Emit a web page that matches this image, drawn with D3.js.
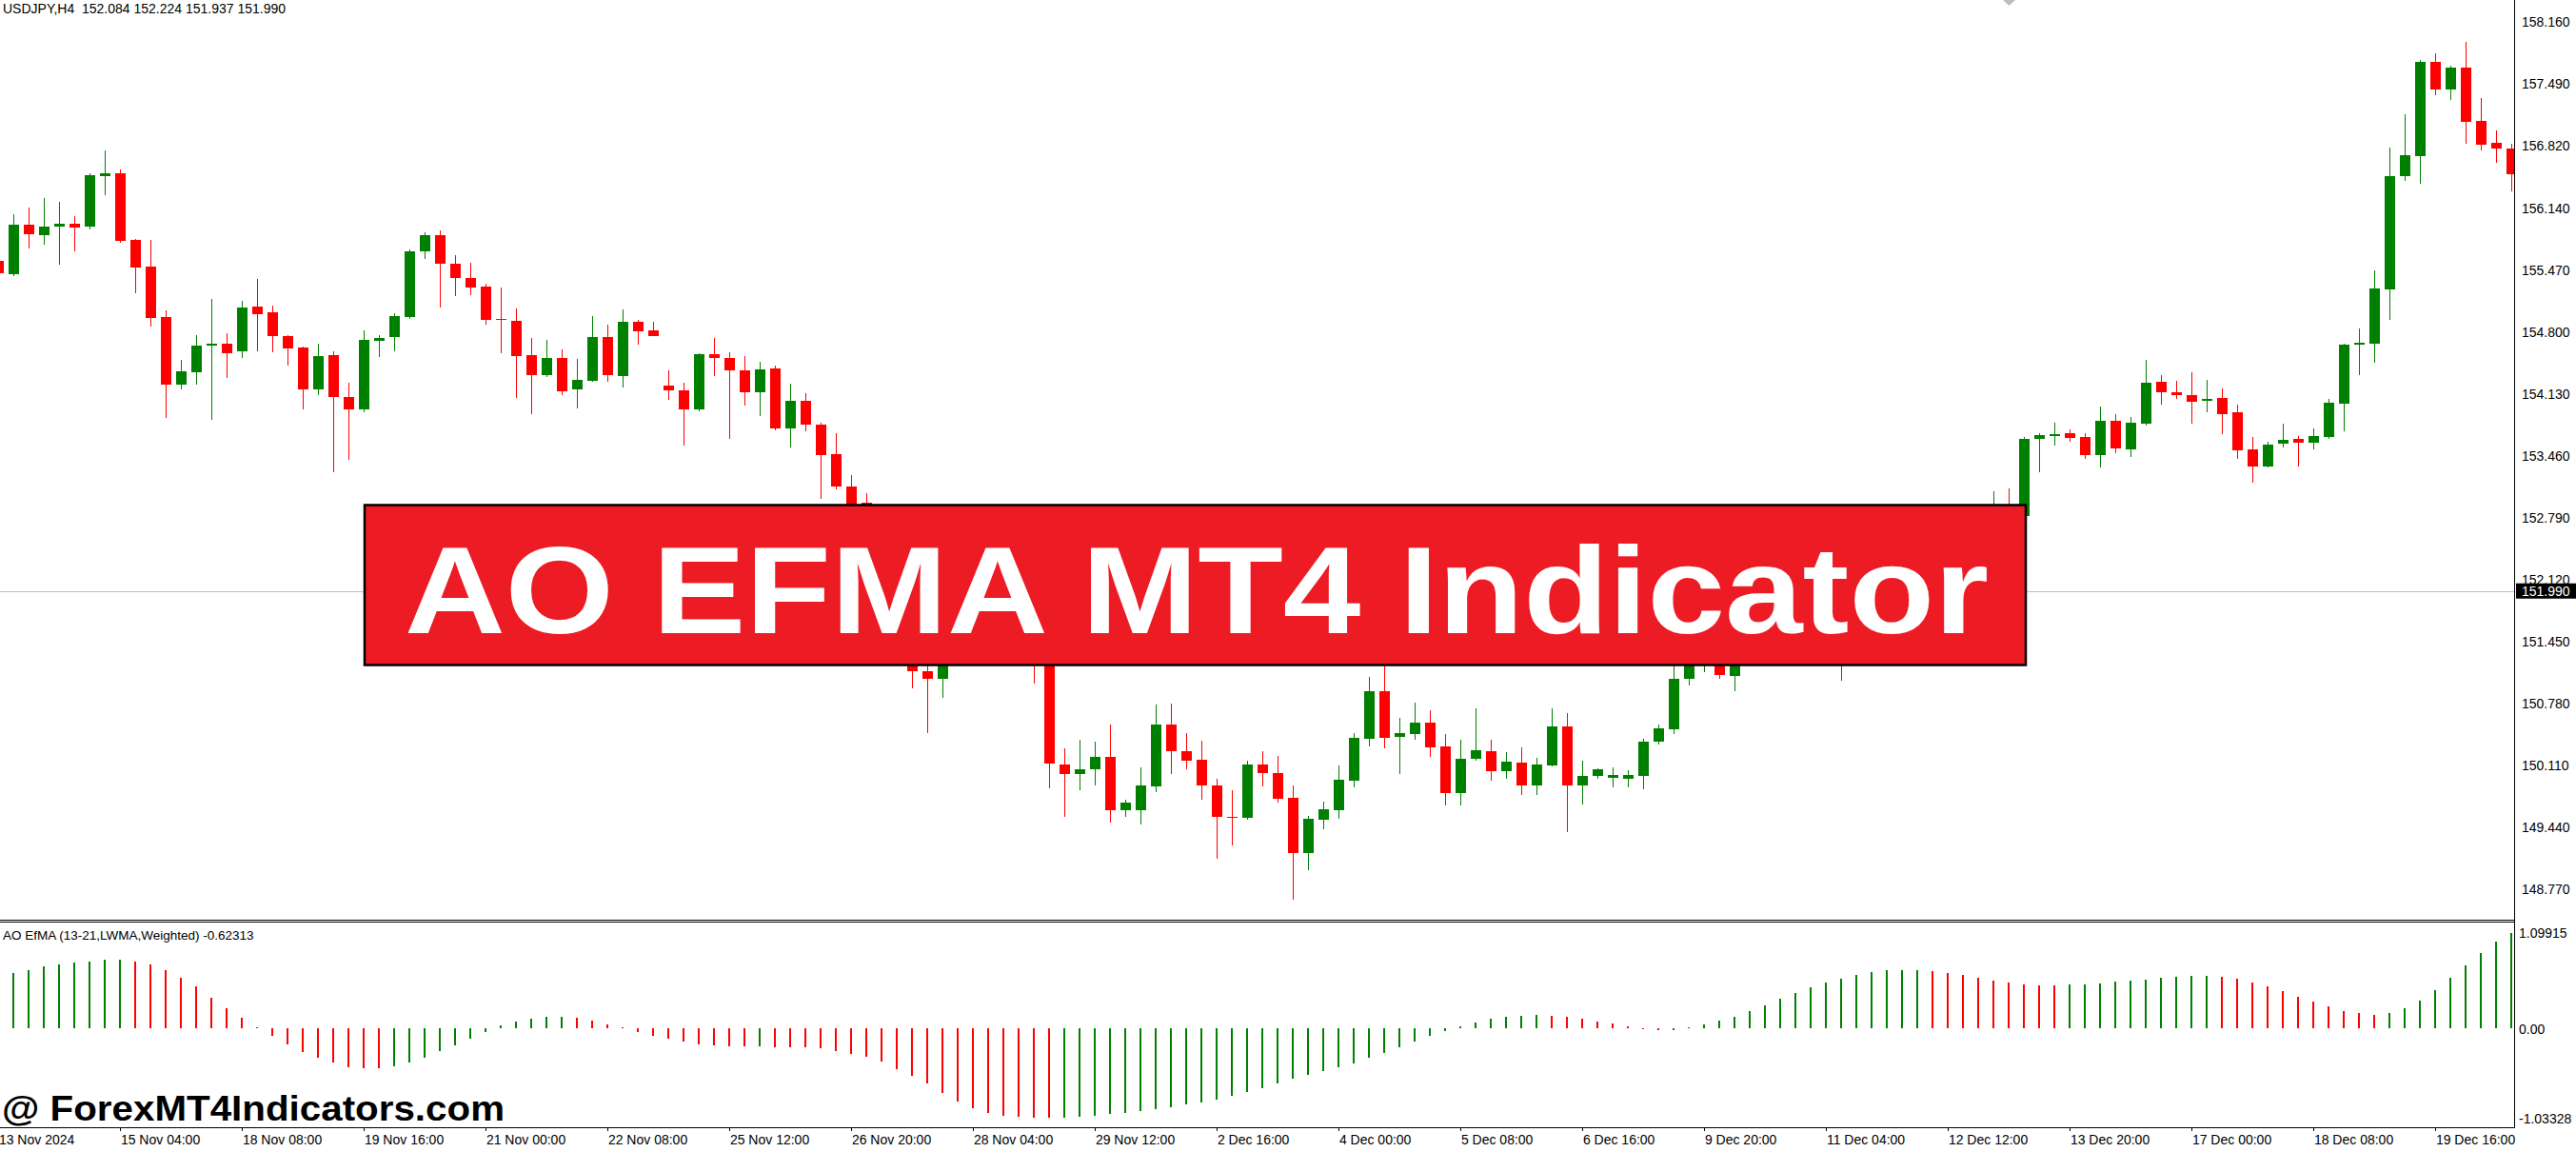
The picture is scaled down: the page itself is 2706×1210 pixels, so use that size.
<!DOCTYPE html>
<html><head><meta charset="utf-8">
<script src="https://cdn.jsdelivr.net/npm/d3@7"></script>
<style>
html,body{margin:0;padding:0;background:#fff;overflow:hidden}
svg{display:block}
text{font-family:"Liberation Sans",Arial,sans-serif}
</style></head><body>
<svg id="c" width="2706" height="1210"></svg>
<script>
// ---------- DATA ----------
const symbolTitle = "USDJPY,H4  152.084 152.224 151.937 151.990";
const indicatorTitle = "AO EfMA (13-21,LWMA,Weighted) -0.62313";
const bannerText = "AO EFMA MT4 Indicator";
const watermarkText = "@ ForexMT4Indicators.com";
const currentPrice = 151.990;

const open = [155.570,155.422,155.955,155.839,155.935,155.968,155.935,156.487,156.513,155.794,
155.506,154.954,154.223,154.364,154.646,154.665,154.582,155.070,155.012,154.749,
154.627,154.178,154.544,154.088,153.960,154.704,154.736,154.954,155.666,155.846,
155.538,155.377,155.288,154.941,154.916,154.544,154.326,154.512,154.172,154.268,
154.742,154.313,154.903,154.813,154.216,154.165,153.953,154.556,154.512,154.377,
154.140,154.403,153.748,154.050,153.793,153.473,153.120,152.947,152.363,151.914,
151.465,151.119,151.035,151.337,151.593,151.786,151.657,151.721,151.529,151.337,
150.112,150.003,150.054,150.189,149.611,149.611,149.874,150.541,150.259,150.163,
149.881,149.547,149.528,150.112,150.015,149.746,149.149,149.509,149.611,149.932,
150.387,150.900,150.413,150.439,150.561,150.304,149.797,150.169,150.253,150.035,
150.131,149.887,150.105,150.522,149.881,149.983,149.964,149.958,149.990,150.355,
150.490,151.035,151.337,151.433,151.074,151.337,151.593,151.914,151.850,152.042,
151.978,151.401,151.721,151.978,152.170,152.106,152.299,152.235,152.427,152.555,
152.684,152.748,152.812,152.805,153.633,153.665,153.697,153.659,153.460,153.832,
153.524,153.800,154.255,154.146,154.114,154.050,154.082,153.928,153.524,153.338,
153.581,153.633,153.594,153.659,154.018,154.653,154.672,155.256,156.481,156.699,
157.719,157.423,157.661,157.084,156.840,156.782];

const high = [155.621,156.070,156.141,156.243,156.205,156.051,156.519,156.763,156.558,155.807,
155.794,155.031,154.492,154.762,155.153,154.781,155.134,155.371,155.076,154.762,
154.640,154.665,154.588,154.249,154.813,154.762,154.999,155.692,155.878,155.897,
155.628,155.544,155.320,155.275,155.050,154.730,154.710,154.608,154.505,154.967,
154.877,155.038,154.928,154.903,154.377,154.249,154.563,154.730,154.576,154.537,
154.473,154.435,154.236,154.133,153.812,153.697,153.248,153.049,152.459,152.010,
151.561,151.272,151.401,151.689,151.882,151.882,151.818,151.786,151.593,151.401,
150.285,150.374,150.355,150.541,149.727,150.079,150.759,150.772,150.451,150.368,
149.958,149.829,150.150,150.253,150.201,149.881,149.554,149.708,150.099,150.451,
151.061,151.305,150.612,150.779,150.695,150.439,150.374,150.714,150.374,150.240,
150.298,150.182,150.721,150.663,150.150,150.073,150.079,150.047,150.387,150.541,
151.208,151.401,151.529,151.497,151.465,151.657,151.978,152.042,152.138,152.170,
152.042,151.786,152.074,152.267,152.299,152.395,152.427,152.523,152.652,152.812,
152.876,153.068,153.100,153.659,153.703,153.812,153.742,153.697,153.986,153.902,
153.877,154.492,154.326,154.268,154.358,154.274,154.184,154.011,153.659,153.607,
153.800,153.665,153.748,154.069,154.672,154.832,155.461,156.795,157.154,157.744,
157.815,157.680,157.937,157.327,156.981,156.833];

const low = [155.377,155.403,155.698,155.743,155.525,155.666,155.903,156.275,155.762,155.217,
154.851,153.864,154.172,154.223,153.844,154.300,154.512,154.588,154.576,154.428,
153.954,154.114,153.274,153.408,153.921,154.524,154.588,154.941,155.583,155.063,
155.185,155.191,154.877,154.563,154.082,153.902,154.306,154.114,153.966,154.255,
154.255,154.191,154.659,154.749,154.063,153.562,153.934,154.319,153.633,153.998,
153.889,153.729,153.549,153.716,152.991,153.088,152.652,152.267,151.818,151.337,
150.933,150.451,150.836,151.272,151.497,151.529,151.561,151.401,150.984,149.849,
149.541,149.829,149.881,149.477,149.547,149.457,149.816,150.003,150.054,149.733,
149.092,149.239,149.509,149.874,149.695,148.643,148.963,149.412,149.521,149.861,
150.310,150.285,150.003,150.381,150.195,149.669,149.663,150.150,149.932,149.958,
149.778,149.784,150.092,149.374,149.682,149.951,149.868,149.868,149.842,150.330,
150.439,150.971,151.106,151.035,150.907,151.272,151.529,151.721,151.754,151.850,
151.337,151.016,151.657,151.914,152.010,152.042,152.138,152.170,152.331,152.459,
152.587,152.652,152.684,152.761,153.274,153.569,153.607,153.421,153.325,153.479,
153.440,153.780,154.011,154.075,153.806,153.928,153.691,153.421,153.165,153.325,
153.543,153.338,153.524,153.639,153.716,154.326,154.460,154.922,156.429,156.404,
157.359,157.308,156.833,156.763,156.628,156.320];

const close = [155.429,155.955,155.852,155.935,155.968,155.923,156.493,156.513,155.782,155.493,
154.948,154.223,154.370,154.646,154.665,154.569,155.063,154.993,154.749,154.621,
154.178,154.537,154.088,153.960,154.710,154.730,154.967,155.666,155.846,155.538,
155.377,155.281,154.928,154.922,154.537,154.326,154.512,154.152,154.274,154.742,
154.326,154.903,154.807,154.755,154.159,153.953,154.556,154.512,154.377,154.140,
154.390,153.748,154.050,153.787,153.466,153.120,152.748,152.363,151.914,151.465,
151.119,151.035,151.337,151.593,151.786,151.657,151.721,151.529,151.337,150.118,
150.003,150.060,150.189,149.611,149.695,149.881,150.541,150.259,150.156,149.881,
149.541,149.528,150.112,150.015,149.740,149.149,149.521,149.624,149.945,150.400,
150.900,150.400,150.451,150.561,150.298,149.797,150.169,150.265,150.035,150.137,
149.887,150.112,150.522,149.881,149.983,150.060,149.996,149.996,150.362,150.503,
151.035,151.337,151.433,151.080,151.337,151.593,151.914,151.850,152.042,151.978,
151.401,151.721,151.978,152.170,152.106,152.299,152.235,152.427,152.555,152.684,
152.748,152.812,152.780,153.639,153.678,153.691,153.646,153.466,153.832,153.537,
153.812,154.249,154.140,154.107,154.037,154.075,153.902,153.511,153.338,153.575,
153.626,153.594,153.665,154.030,154.659,154.678,155.268,156.481,156.712,157.719,
157.423,157.661,157.071,156.827,156.782,156.506];

const aoValues = [0.600,0.634,0.663,0.707,0.729,0.751,0.762,0.784,0.785,0.762,
0.729,0.663,0.575,0.476,0.355,0.234,0.125,0.015,-0.088,-0.190,
-0.278,-0.344,-0.399,-0.443,-0.454,-0.456,-0.432,-0.399,-0.344,-0.267,
-0.201,-0.125,-0.048,0.029,0.073,0.106,0.128,0.129,0.117,0.084,
0.040,0.007,-0.044,-0.092,-0.125,-0.158,-0.190,-0.201,-0.210,-0.212,
-0.210,-0.214,-0.222,-0.224,-0.234,-0.267,-0.300,-0.333,-0.388,-0.465,
-0.542,-0.630,-0.740,-0.839,-0.916,-0.971,-1.005,-1.022,-1.030,-1.033,
-1.032,-1.022,-1.005,-0.982,-0.971,-0.949,-0.927,-0.905,-0.872,-0.850,
-0.817,-0.773,-0.735,-0.690,-0.636,-0.580,-0.535,-0.491,-0.447,-0.403,
-0.337,-0.282,-0.216,-0.150,-0.084,-0.029,0.022,0.066,0.110,0.136,
0.143,0.158,0.143,0.132,0.110,0.077,0.055,0.022,-0.005,-0.018,
-0.017,0.011,0.044,0.088,0.132,0.198,0.264,0.341,0.407,0.473,
0.527,0.571,0.615,0.648,0.668,0.670,0.671,0.659,0.637,0.615,
0.582,0.549,0.527,0.505,0.496,0.494,0.503,0.505,0.516,0.538,
0.549,0.560,0.582,0.593,0.603,0.605,0.593,0.571,0.527,0.484,
0.429,0.363,0.308,0.253,0.198,0.176,0.154,0.176,0.231,0.319,
0.440,0.582,0.725,0.868,1.000,1.099];

const priceTicks = [158.160,157.490,156.820,156.140,155.470,154.800,154.130,153.460,152.790,152.120,151.450,150.780,150.110,149.440,148.770];
const aoTicks = [1.09915, 0, -1.03328];
const aoTickLabels = ["1.09915","0.00","-1.03328"];
const timeLabels = ["13 Nov 2024","15 Nov 04:00","18 Nov 08:00","19 Nov 16:00","21 Nov 00:00","22 Nov 08:00","25 Nov 12:00","26 Nov 20:00","28 Nov 04:00","29 Nov 12:00","2 Dec 16:00","4 Dec 00:00","5 Dec 08:00","6 Dec 16:00","9 Dec 20:00","11 Dec 04:00","12 Dec 12:00","13 Dec 20:00","17 Dec 00:00","18 Dec 08:00","19 Dec 16:00"];
const timeLabelBars = timeLabels.map((d,i)=>i*8);

// ---------- LAYOUT ----------
const GREEN = "#008000", RED = "#ff0000";
const axisX = 2641;
const mainBottom = 966, subTop = 968, subBottom = 1184;
const svg = d3.select("#c");
const nBars = open.length;
const bars = d3.range(nBars).map(i=>({i, o:open[i], h:high[i], l:low[i], c:close[i], ao:aoValues[i]}));

const x = d3.scaleLinear().domain([0, nBars-1]).range([-1.6, -1.6 + 16*(nBars-1)]);
const y = d3.scaleLinear().domain([148.770, 158.160]).range([933, 22.4]);
const yi = d3.scaleLinear().domain([-1.03328, 1.09915]).range([1174.5, 979.5]);

const defs = svg.append("defs");
defs.append("clipPath").attr("id","clipMain").append("rect").attr("x",0).attr("y",0).attr("width",axisX).attr("height",mainBottom);
defs.append("clipPath").attr("id","clipSub").append("rect").attr("x",0).attr("y",subTop+1).attr("width",axisX).attr("height",subBottom-subTop-1);

// current price line
svg.append("line").attr("x1",0).attr("x2",axisX).attr("y1",Math.round(y(currentPrice))+0.5).attr("y2",Math.round(y(currentPrice))+0.5)
  .attr("stroke","#c0c0c0").attr("stroke-width",1);

// candles
const gC = svg.append("g").attr("clip-path","url(#clipMain)").attr("shape-rendering","crispEdges");
const cg = gC.selectAll("g.candle").data(bars).join("g").attr("class","candle");
cg.append("rect")
  .attr("x", d=>Math.round(x(d.i)))
  .attr("width", 1)
  .attr("y", d=>y(d.h))
  .attr("height", d=>Math.max(1, y(d.l)-y(d.h)))
  .attr("fill", d=>d.c>=d.o?GREEN:RED);
cg.append("rect")
  .attr("x", d=>Math.round(x(d.i))-5)
  .attr("width", 11)
  .attr("y", d=>y(Math.max(d.o,d.c)))
  .attr("height", d=>Math.max(1.5, Math.abs(y(d.o)-y(d.c))))
  .attr("fill", d=>d.c>=d.o?GREEN:RED);

// indicator histogram
const gI = svg.append("g").attr("clip-path","url(#clipSub)").attr("shape-rendering","crispEdges");
gI.selectAll("rect").data(bars).join("rect")
  .attr("x", d=>Math.round(x(d.i))-1)
  .attr("width", 2)
  .attr("y", d=>Math.min(yi(0), yi(d.ao)))
  .attr("height", d=>Math.max(1, Math.abs(yi(d.ao)-yi(0))))
  .attr("fill", d=>(d.i===0 || d.ao > aoValues[d.i-1]) ? GREEN : RED);

// frame lines
const fr = svg.append("g").attr("stroke","#000").attr("stroke-width",1).attr("shape-rendering","crispEdges");
fr.append("line").attr("x1",axisX+0.5).attr("x2",axisX+0.5).attr("y1",0).attr("y2",subBottom+0.5);
fr.append("line").attr("x1",0).attr("x2",axisX).attr("y1",mainBottom+0.5).attr("y2",mainBottom+0.5);
fr.append("line").attr("x1",0).attr("x2",axisX).attr("y1",subTop+0.5).attr("y2",subTop+0.5);
fr.append("line").attr("x1",0).attr("x2",axisX).attr("y1",subBottom+0.5).attr("y2",subBottom+0.5);

// price axis
const pAxis = svg.append("g").attr("transform",`translate(${axisX},0)`)
  .call(d3.axisRight(y).tickValues(priceTicks).tickFormat(d3.format(".3f")).tickSize(0).tickPadding(8));
pAxis.select(".domain").remove();
pAxis.selectAll("text").attr("font-size",14).attr("font-family",'"Liberation Sans",Arial,sans-serif').attr("fill","#000").attr("dy","0.36em");

// indicator axis
const iAxis = svg.append("g").attr("transform",`translate(${axisX},0)`)
  .call(d3.axisRight(yi).tickValues(aoTicks).tickFormat((d,i)=>aoTickLabels[i]).tickSize(0).tickPadding(5));
iAxis.select(".domain").remove();
iAxis.selectAll("text").attr("font-size",14).attr("font-family",'"Liberation Sans",Arial,sans-serif').attr("fill","#000").attr("dy","0.36em");

// current price label
const cpY = y(currentPrice);
svg.append("rect").attr("x",axisX+2).attr("y",cpY-8).attr("width",2706-axisX-2).attr("height",16).attr("fill","#000");
svg.append("text").attr("x",axisX+8).attr("y",cpY).attr("dy","0.36em").attr("font-size",14).attr("fill","#fff").text(d3.format(".3f")(currentPrice));

// time axis
const tAxis = svg.append("g").attr("transform",`translate(0,${subBottom})`)
  .call(d3.axisBottom(x).tickValues(timeLabelBars).tickFormat((d,i)=>timeLabels[i]).tickSize(4));
tAxis.select(".domain").remove();
tAxis.selectAll("line").attr("stroke","#000").attr("shape-rendering","crispEdges");
tAxis.selectAll("text").attr("text-anchor","start").attr("x",0).attr("y",8).attr("dy","0.71em")
  .attr("font-size",14).attr("font-family",'"Liberation Sans",Arial,sans-serif').attr("fill","#000");

// titles
svg.append("text").attr("x",3).attr("y",14).attr("font-size",14).style("white-space","pre").attr("fill","#000").text(symbolTitle);
svg.append("text").attr("x",3).attr("y",987).attr("font-size",13.5).attr("fill","#000").text(indicatorTitle);

// shift marker
svg.append("polygon").attr("points","2104,0 2117,0 2110.5,6").attr("fill","#bdbdbd");

// banner
svg.append("rect").attr("x",383).attr("y",530.5).attr("width",1745).attr("height",168).attr("fill","#ed1c24").attr("stroke","#000").attr("stroke-width",2.5);
svg.append("text").attr("x",425).attr("y",665).attr("font-size",129).attr("font-weight","bold").attr("fill","#fff")
  .attr("textLength",1664).attr("lengthAdjust","spacingAndGlyphs").text(bannerText);

// watermark
svg.append("text").attr("x",2).attr("y",1177).attr("font-size",36).attr("font-weight","bold").attr("fill","#000")
  .attr("textLength",528).attr("lengthAdjust","spacingAndGlyphs").text(watermarkText);
</script>
</body></html>
